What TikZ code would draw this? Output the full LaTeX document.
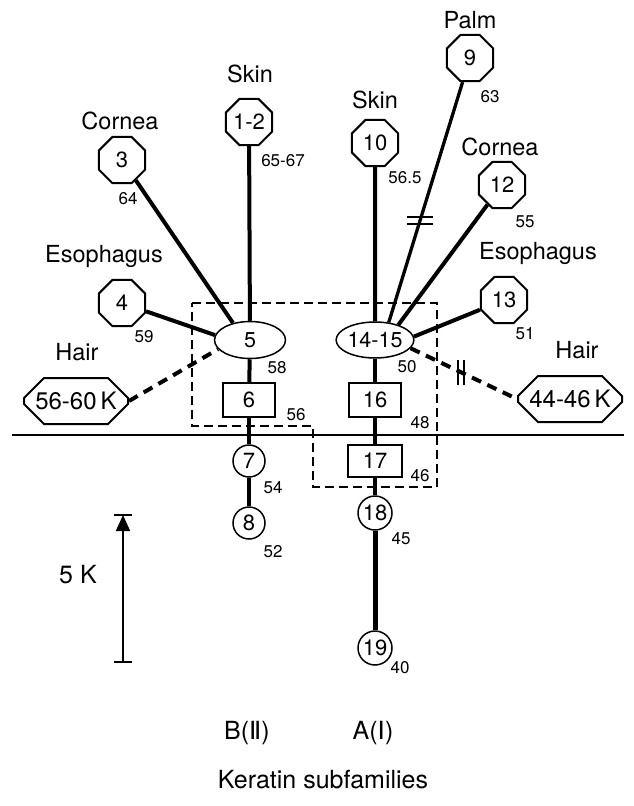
\documentclass[tikz,border=0pt]{standalone}
\usepackage{fontspec}
\setmainfont{TeX Gyre Heros}
\newfontfamily\dejavu{DejaVu Sans}
\usetikzlibrary{shapes.geometric,shapes.misc,arrows.meta}
\begin{document}
\begin{tikzpicture}[x=1pt,y=-1pt,
  tis/.style={inner sep=0pt,font=\fontsize{23.5}{26}\selectfont},
  wt/.style={inner sep=0pt,font=\fontsize{17}{19}\selectfont},
  octa/.style={draw,line width=2pt,regular polygon,regular polygon sides=8,minimum size=50pt,inner sep=0pt,fill=white,font=\fontsize{22}{24}\selectfont},
  ell/.style={draw,line width=1.5pt,ellipse,inner sep=0pt,fill=white,font=\fontsize{21.5}{23}\selectfont},
  sq/.style={draw,line width=1.5pt,rectangle,inner sep=0pt,fill=white,font=\fontsize{22}{24}\selectfont},
  circ/.style={draw,line width=1.5pt,circle,inner sep=0pt,fill=white,font=\fontsize{22}{24}\selectfont},
  hairbox/.style={draw,line width=2pt,chamfered rectangle,chamfered rectangle xsep=14pt,chamfered rectangle ysep=11pt,minimum width=104pt,minimum height=46pt,inner sep=0pt,fill=white,font=\fontsize{24}{26}\selectfont},
  conn/.style={line width=4pt},
  hdash/.style={line width=4pt,dash pattern=on 10pt off 7pt},
  dbox/.style={line width=1.8pt,dash pattern=on 9pt off 5pt},
  brkbar/.style={line width=1.8pt},
  big/.style={inner sep=0pt,font=\fontsize{25}{28}\selectfont}]
\useasboundingbox (0,0) rectangle (634,806);

% dashed box and baseline
\draw[dbox] (192,303) -- (437,303) -- (437,487) -- (313,487) -- (313,426) -- (192,426) -- cycle;
\draw[line width=2.4pt] (12,435) -- (624,435);

% left subfamily B(II)
\node[octa] (n12) at (249,122) {1-2};
\node[octa] (n3) at (122,160) {3};
\node[octa] (n4) at (122,303) {4};
\node[ell,minimum width=71pt,minimum height=37pt] (n5) at (250,340) {5};
\node[sq,minimum width=52pt,minimum height=34pt] (n6) at (249,400) {6};
\node[circ,minimum size=32pt] (n7) at (249,461) {7};
\node[circ,minimum size=32pt] (n8) at (249,523) {8};
\node[hairbox] (hairL) at (76,401) {56-60\,K};

% right subfamily A(I)
\node[octa] (n9) at (470,58) {9};
\node[octa] (n10) at (375,143) {10};
\node[octa] (n12b) at (502,185) {12};
\node[octa] (n13) at (504,300) {13};
\node[ell,minimum width=75pt,minimum height=36pt] (n1415) at (375,340) {14-15};
\node[sq,minimum width=52pt,minimum height=34pt] (n16) at (375,400) {16};
\node[sq,minimum width=54pt,minimum height=32pt] (n17) at (375,461) {17};
\node[circ,minimum size=34pt] (n18) at (375,513) {18};
\node[circ,minimum size=34pt] (n19) at (375,648) {19};
\node[hairbox] (hairR) at (570,399) {44-46\,K};

% connectors left
\draw[conn] (n12) -- (n5);
\draw[conn] (n3) -- (n5.135);
\draw[conn] (n4) -- (n5.172);
\draw[hdash] (hairL.east) -- (n5.196);
\draw[conn] (n5) -- (n6);
\draw[conn] (n6) -- (n7);
\draw[conn] (n7) -- (n8);

% connectors right
\draw[conn] (n10) -- (n1415);
\draw[line width=3.3pt] (n9) -- coordinate[pos=0.575] (brkP) (n1415.52);
\draw[brkbar] ([xshift=-13pt,yshift=3.5pt]brkP) -- ([xshift=13pt,yshift=3.5pt]brkP);
\draw[brkbar] ([xshift=-13pt,yshift=-3.5pt]brkP) -- ([xshift=13pt,yshift=-3.5pt]brkP);
\draw[conn] (n12b) -- (n1415.33);
\draw[conn] (n13) -- (n1415.5);
\draw[hdash] (n1415.-13) -- coordinate[pos=0.47] (brkH) (hairR.west);
\draw[brkbar] ([xshift=-3pt,yshift=-12.5pt]brkH) -- ([xshift=-3pt,yshift=12.5pt]brkH);
\draw[brkbar] ([xshift=3pt,yshift=-12.5pt]brkH) -- ([xshift=3pt,yshift=12.5pt]brkH);
\draw[conn] (n1415) -- (n16);
\draw[conn] (n16) -- (n17);
\draw[conn] (n17) -- (n18);
\draw[line width=5pt] (n18) -- (n19);

% tissue labels
\node[tis] (tSkinL) at (250,74) {Skin};
\node[tis] (tCorL) at (120,121) {Cornea};
\node[tis] (tEsoL) at (104,256) {Esophagus};
\node[tis] (tHairL) at (77,352) {Hair};
\node[tis] (tPalm) at (470,20) {Palm};
\node[tis] (tSkinR) at (375,100) {Skin};
\node[tis] (tCorR) at (500,147) {Cornea};
\node[tis] (tEsoR) at (538,253) {Esophagus};
\node[tis] (tHairR) at (577,350) {Hair};

% molecular weights
\node[wt] (w12) at (283,161) {65-67};
\node[wt] (w3) at (128,199) {64};
\node[wt] (w4) at (144,337) {59};
\node[wt] (w5) at (277,368) {58};
\node[wt] (w6) at (296,415) {56};
\node[wt] (w7) at (273,488) {54};
\node[wt] (w8) at (273,552) {52};
\node[wt] (w9) at (490,97) {63};
\node[wt] (w10) at (405,178) {56.5};
\node[wt] (w12b) at (525,222) {55};
\node[wt] (w13) at (525,334) {51};
\node[wt] (w1415) at (407,367) {50};
\node[wt] (w16) at (420,423) {48};
\node[wt] (w17) at (420,476) {46};
\node[wt] (w18) at (401,539) {45};
\node[wt] (w19) at (400,668) {40};

% scale bar
\coordinate (sbTop) at (123,515);
\coordinate (sbBot) at (123,662);
\draw[line width=1.8pt,-{Triangle[length=16pt,width=14pt]}] (sbBot) -- (sbTop);
\draw[line width=1.8pt] ([xshift=-9pt]sbTop) -- ([xshift=9pt]sbTop);
\draw[line width=1.8pt] ([xshift=-9pt]sbBot) -- ([xshift=9pt]sbBot);
\node[big] (scl) at (78,575) {5 K};

% bottom labels
\node[big] (lB) at (247,733) {B({\dejavu Ⅱ})};
\node[big] (lA) at (373,733) {A({\dejavu Ⅰ})};
\node[big] (lK) at (323,780) {Keratin subfamilies};
\end{tikzpicture}
\end{document}
